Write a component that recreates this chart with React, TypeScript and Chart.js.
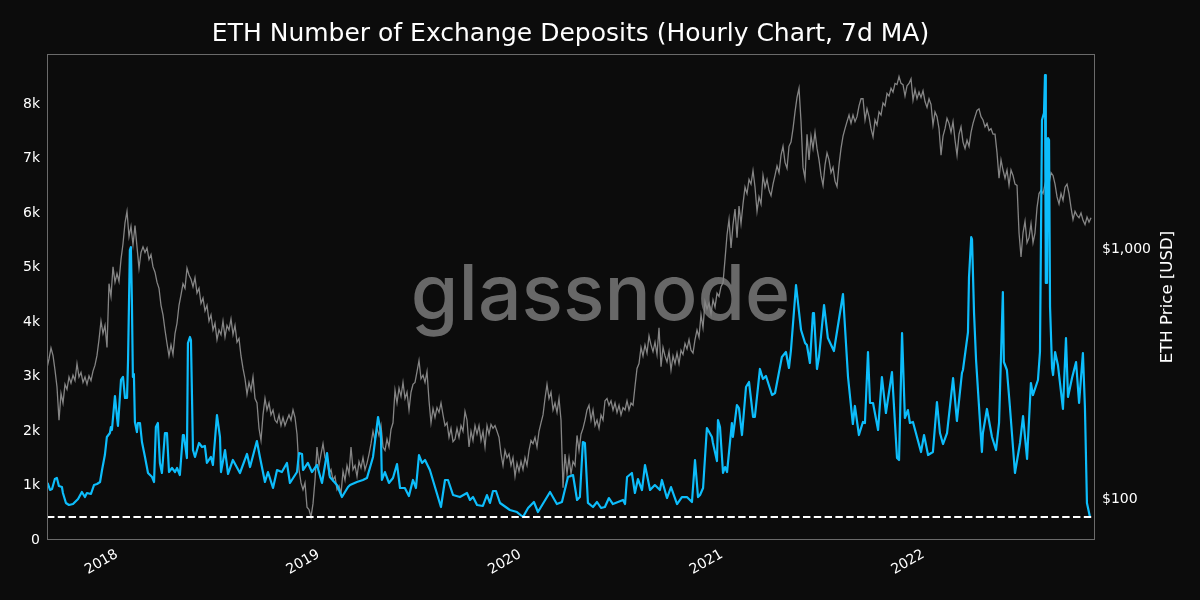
import React, { useEffect, useRef } from "react";
import { Chart, registerables } from "chart.js";

Chart.register(...registerables);

const TITLE = "ETH Number of Exchange Deposits (Hourly Chart, 7d MA)";
const RIGHT_TITLE = "ETH Price [USD]";
const WATERMARK = "glassnode";
const yearTicks = [2018, 2019, 2020, 2021, 2022];
const countTicks = [0, 1000, 2000, 3000, 4000, 5000, 6000, 7000, 8000];
const priceTicks = [100, 1000];
const thresholdValue = [404, 404];
const thresholdYears = [2017.653, 2022.846];

// price samples are evenly spaced along the time axis
const priceStartYear = 2017.653;
const priceStepYears = 0.00992;
const priceUsd = [331,360,398,372,325,278,205,262,240,285,272,305,288,310,295,345,305,318,290,305,285,308,295,322,340,372,430,510,455,490,400,720,640,840,730,790,735,900,1040,1260,1400,1110,1220,1030,1230,1010,830,960,1010,960,1000,900,940,840,800,730,690,590,540,470,415,370,410,375,455,500,590,650,720,690,830,780,750,700,760,660,690,600,630,560,590,510,540,470,500,430,470,450,510,440,490,470,520,450,490,420,435,370,330,300,260,290,270,305,250,240,190,170,215,250,225,240,215,225,205,200,215,195,210,195,205,215,205,225,210,180,130,115,108,115,92,90,84,95,118,160,135,150,165,145,140,125,130,118,122,108,112,104,128,118,135,125,160,130,135,122,140,132,145,130,138,150,165,185,170,190,178,195,160,155,172,160,188,200,270,240,275,255,290,250,265,225,265,285,290,320,355,300,310,290,320,245,200,228,210,230,220,240,215,195,200,175,190,168,172,190,175,195,185,222,205,160,185,170,195,180,195,170,185,160,195,180,197,190,195,185,175,150,135,155,145,150,135,145,122,138,128,140,130,145,135,155,170,165,175,160,185,200,215,250,285,250,265,225,240,220,250,205,110,150,125,145,125,140,135,178,155,180,190,205,225,235,205,225,195,205,190,215,205,245,250,235,245,225,240,220,235,215,230,225,245,225,240,235,280,330,345,400,370,410,380,445,410,385,420,375,480,335,400,370,350,385,325,370,345,380,345,390,375,415,395,430,390,380,430,470,440,540,480,610,570,600,545,620,580,660,640,700,725,900,1130,1300,1000,1240,1430,1100,1470,1250,1500,1750,1650,1880,1800,2040,1750,1400,1600,1500,1950,1750,1880,1700,1620,1800,1950,2130,2000,2350,2550,2200,2080,2550,2650,3000,3500,4000,4350,3200,2100,1900,2850,2250,2800,2500,2900,2500,2250,1950,1780,2150,2400,2250,2000,2100,1850,1760,2150,2500,2800,3000,3200,3400,3150,3400,3200,3350,3700,3950,3950,3250,3600,3350,3000,2780,3250,3100,3500,3400,3800,3700,4150,4050,4350,4200,4550,4500,4850,4550,4500,4050,4450,4550,4750,3900,4300,3950,4200,4000,4250,3850,3650,3950,3750,3100,3500,3350,3000,2350,2800,3000,3300,3150,2900,3200,2700,2350,2850,3050,2650,2500,2700,2550,2900,3150,3350,3550,3600,3350,3250,3050,3150,2950,3000,2850,2850,2400,1900,2250,2050,1900,2050,1780,2050,1950,1800,1780,1150,920,1150,1280,1050,1100,1250,1050,1150,1450,1650,1700,1650,1800,1600,1800,2000,1950,1800,1600,1500,1650,1550,1750,1800,1650,1450,1300,1400,1350,1320,1380,1290,1240,1330,1270,1320];

// years after 2000
const depositYears = [17.656,17.668,17.678,17.692,17.702,17.712,17.727,17.732,17.747,17.762,17.782,17.807,17.826,17.841,17.851,17.871,17.886,17.901,17.916,17.926,17.94,17.95,17.965,17.97,17.975,17.99,18,18.005,18.02,18.03,18.04,18.05,18.055,18.064,18.069,18.074,18.079,18.084,18.089,18.099,18.104,18.114,18.124,18.139,18.154,18.174,18.184,18.193,18.203,18.213,18.223,18.228,18.238,18.248,18.258,18.273,18.288,18.298,18.312,18.327,18.332,18.347,18.352,18.362,18.367,18.377,18.387,18.407,18.422,18.436,18.446,18.466,18.476,18.496,18.511,18.516,18.536,18.551,18.575,18.61,18.645,18.66,18.694,18.709,18.734,18.749,18.774,18.794,18.818,18.843,18.858,18.893,18.903,18.918,18.923,18.947,18.967,18.992,19.017,19.042,19.056,19.091,19.116,19.146,19.156,19.19,19.22,19.24,19.27,19.295,19.309,19.314,19.329,19.349,19.369,19.389,19.404,19.428,19.448,19.468,19.483,19.498,19.513,19.528,19.552,19.607,19.627,19.642,19.667,19.701,19.736,19.751,19.766,19.786,19.815,19.835,19.85,19.865,19.88,19.9,19.949,19.984,20.014,20.039,20.068,20.088,20.148,20.182,20.207,20.237,20.262,20.282,20.296,20.311,20.321,20.336,20.361,20.381,20.401,20.42,20.44,20.46,20.51,20.52,20.53,20.554,20.569,20.584,20.604,20.619,20.644,20.668,20.693,20.703,20.728,20.748,20.778,20.802,20.827,20.852,20.867,20.882,20.892,20.907,20.926,20.951,20.956,20.976,20.981,20.991,21.006,21.016,21.026,21.05,21.055,21.075,21.085,21.1,21.12,21.135,21.155,21.164,21.189,21.204,21.219,21.249,21.264,21.298,21.318,21.333,21.343,21.368,21.393,21.413,21.422,21.437,21.452,21.457,21.472,21.482,21.507,21.526,21.556,21.601,21.626,21.65,21.66,21.68,21.7,21.71,21.725,21.735,21.75,21.775,21.794,21.814,21.844,21.869,21.879,21.894,21.908,21.923,21.933,21.948,21.988,22.003,22.023,22.047,22.067,22.082,22.097,22.117,22.147,22.166,22.191,22.196,22.221,22.226,22.237,22.241,22.251,22.261,22.29,22.295,22.315,22.34,22.36,22.375,22.394,22.399,22.414,22.429,22.454,22.479,22.494,22.514,22.533,22.543,22.568,22.578,22.588,22.598,22.603,22.607,22.613,22.618,22.623,22.628,22.638,22.643,22.653,22.667,22.692,22.707,22.717,22.737,22.757,22.772,22.791,22.801,22.811,22.826];
const depositCounts = [1028,900,917,1100,1120,973,954,844,660,624,642,734,862,770,844,826,990,1010,1046,1266,1541,1872,1945,2055,2000,2624,2239,2074,2918,2973,2587,2587,3285,5303,5358,4386,2973,3028,2147,1963,2129,2129,1780,1505,1211,1138,1046,2055,2129,1395,1211,1450,1945,1945,1229,1303,1229,1303,1174,1908,1908,1486,3597,3707,3652,1633,1505,1762,1688,1707,1395,1505,1358,2275,1872,1229,1633,1193,1450,1211,1560,1321,1798,1505,1046,1229,936,1266,1229,1395,1028,1229,1578,1560,1266,1395,1229,1358,1028,1578,1138,990,770,954,990,1046,1083,1120,1505,2239,1945,1083,1229,1028,1120,1376,936,936,789,1083,936,1541,1395,1450,1266,587,1083,1083,807,770,844,716,770,624,606,807,661,881,881,661,532,495,404,569,679,495,862,642,679,1138,1174,716,770,1780,1762,661,587,679,569,587,752,642,716,642,1138,1211,844,1101,899,1358,899,990,899,1083,752,954,642,770,770,679,1450,770,807,936,2037,1872,1762,1431,2184,2055,1211,1321,1229,2129,1872,2459,2404,1908,2789,2881,2239,2239,3120,2936,2991,2642,2679,3340,3431,3138,3468,4661,3835,3597,3560,3230,4147,4147,3120,3340,4294,3688,3450,4496,2973,2110,2441,1908,2147,2129,3431,2496,2496,2000,2973,2312,3064,1486,1450,3780,2220,2367,2129,2147,1596,1908,1541,1596,2514,1945,1743,1945,2954,2165,3046,3101,3798,4800,5542,5500,4147,3285,1596,1945,2386,1872,1633,2129,4532,3248,3101,2422,1211,1762,2257,1468,2863,2642,2918,3431,7689,7817,8514,4698,4698,7358,7322,4257,3138,3009,3431,3193,2386,3688,2606,2954,3248,2496,3413,2422,661,404];

const BG = "#0c0c0c";
const FRAME = "#6b6b6b";
const TEXT = "#ffffff";
const FONT = "'DejaVu Sans'";

const frameAndLabels = {
  id: "frameAndLabels",
  beforeDatasetsDraw(chart: any) {
    const { ctx, chartArea: a } = chart;
    ctx.save();
    ctx.fillStyle = "#686868";
    ctx.font = "500 77px Inter";
    ctx.textAlign = "center";
    ctx.textBaseline = "alphabetic";
    ctx.fillText(WATERMARK, (a.left + a.right) / 2 + 30, 320);
    ctx.restore();
  },
  afterDraw(chart: any) {
    const { ctx, chartArea: a } = chart;
    ctx.save();
    ctx.strokeStyle = FRAME;
    ctx.lineWidth = 1;
    ctx.strokeRect(a.left + 0.5, a.top + 0.5, a.right - a.left, a.bottom - a.top);
    ctx.fillStyle = TEXT;
    ctx.font = `16.6px ${FONT}`;
    ctx.textAlign = "center";
    ctx.textBaseline = "middle";
    ctx.translate(1168, 297);
    ctx.rotate(-Math.PI / 2);
    ctx.fillText(RIGHT_TITLE, 0, 0);
    ctx.restore();
  },
};

export default function App() {
  const ref = useRef<HTMLCanvasElement | null>(null);
  useEffect(() => {
    document.body.style.margin = "0";
    document.body.style.background = BG;
    const chart = new Chart(ref.current!, {
      type: "line",
      data: {
        datasets: [
          {
            label: "threshold",
            data: thresholdYears.map((x, i) => ({ x, y: thresholdValue[i] })),
            borderColor: "#ffffff",
            borderWidth: 2,
            borderDash: [7.4, 3.4],
            pointRadius: 0,
            yAxisID: "y",
            order: 0,
          },
          {
            label: "Exchange Deposits",
            data: depositYears.map((x, i) => ({ x: 2000 + x, y: depositCounts[i] })),
            borderColor: "#0dbdfb",
            borderWidth: 2.2,
            borderJoinStyle: "round",
            pointRadius: 0,
            tension: 0,
            yAxisID: "y",
            order: 1,
          },
          {
            label: "ETH Price",
            data: priceUsd.map((y, i) => ({ x: priceStartYear + i * priceStepYears, y })),
            borderColor: "#858585",
            borderWidth: 1.3,
            pointRadius: 0,
            tension: 0,
            yAxisID: "yPrice",
            order: 2,
          },
        ],
      } as any,
      options: {
        responsive: false,
        animation: false,
        devicePixelRatio: 1,
        layout: { padding: 0 },
        plugins: {
          legend: { display: false },
          tooltip: { enabled: false },
          title: {
            display: true,
            text: TITLE,
            color: TEXT,
            fullSize: false,
            font: { family: FONT, size: 25, weight: "normal" },
            padding: { top: 19, bottom: 5 },
          },
        },
        scales: {
          x: {
            type: "linear",
            min: 2017.653,
            max: 2022.846,
            grid: { display: false, drawTicks: false },
            border: { display: false },
            afterBuildTicks(s: any) {
              s.ticks = yearTicks.map((value) => ({ value }));
            },
            afterFit(s: any) {
              s.height = 61;
            },
            ticks: {
              autoSkip: false,
              minRotation: 30,
              maxRotation: 30,
              color: TEXT,
              padding: 7,
              font: { family: FONT, size: 14 },
              callback: (v: any) => String(v),
            },
          },
          y: {
            position: "left",
            min: 0,
            max: 8900,
            grid: { display: false, drawTicks: false },
            border: { display: false },
            afterBuildTicks(s: any) {
              s.ticks = countTicks.map((value) => ({ value }));
            },
            afterFit(s: any) {
              s.width = 47;
            },
            ticks: {
              autoSkip: false,
              color: TEXT,
              padding: 7,
              labelOffset: 1,
              font: { family: FONT, size: 14 },
              callback: (v: any) => (v === 0 ? "0" : `${v / 1000}k`),
            },
          },
          yPrice: {
            type: "logarithmic",
            position: "right",
            min: 68.6,
            max: 5965,
            grid: { display: false, drawTicks: false },
            border: { display: false },
            afterBuildTicks(s: any) {
              s.ticks = priceTicks.map((value) => ({ value }));
            },
            afterFit(s: any) {
              s.width = 106;
            },
            ticks: {
              autoSkip: false,
              color: TEXT,
              padding: 8,
              labelOffset: 1,
              font: { family: FONT, size: 14 },
              callback: (v: any) => `$${Number(v).toLocaleString("en-US")}`,
            },
          },
        },
      } as any,
      plugins: [frameAndLabels],
    });
    return () => chart.destroy();
  }, []);
  return (
    <div style={{ width: 1200, height: 600, background: BG }}>
      <canvas ref={ref} width={1200} height={600} style={{ display: "block" }} />
    </div>
  );
}
